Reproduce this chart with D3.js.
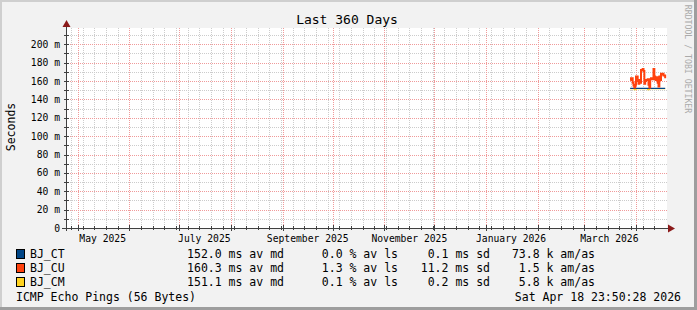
<!doctype html>
<html>
<head>
<meta charset="utf-8">
<title>Last 360 Days</title>
<script src="https://cdn.jsdelivr.net/npm/d3@7"></script>
<style>
  body { margin: 0; background: #f2f2f2; }
  svg { display: block; }
  text { font-family: "DejaVu Sans Mono", monospace; }
</style>
</head>
<body>
<script>
// ---- data (seconds) ----
var endTime = new Date(2026, 3, 18, 23, 50, 28);
var spanDays = 360;
var seriesStart = new Date(2026, 2, 28, 12, 0, 0);   // first sample of the targets
var stepHours = 12;

var hostNames = ["BJ_CT", "BJ_CU", "BJ_CM"];
var hostColors = ["#004586", "#ff420e", "#ffd320"];

var ctValues = [0.1520,0.1520,0.1520,0.1520,0.1520,0.1520,0.1520,0.1520,0.1520,0.1520,
                0.1520,0.1520,0.1520,0.1520,0.1520,0.1520,0.1520,0.1520,0.1520,0.1520,
                0.1520,0.1520,0.1520,0.1520,0.1520,0.1520,0.1520,0.1520,0.1520,0.1520,
                0.1520,0.1520,0.1520,0.1520,0.1520,0.1520,0.1520,0.1520,0.1520,0.1520,
                0.1520,0.1520,0.1520];
var cuValues = [0.161,0.163,0.163,0.158,0.155,0.153,0.156,0.165,0.165,0.160,
                0.157,0.161,0.158,0.172,0.172,0.173,0.171,0.157,0.160,0.161,
                0.161,0.162,0.156,0.153,0.162,0.163,0.162,0.162,0.173,0.165,
                0.162,0.161,0.164,0.158,0.154,0.165,0.161,0.168,0.167,0.168,
                0.166,0.166,0.163];
var cmValues = [0.1518,0.1518,0.1518,0.1518,0.1518,0.1505,0.1505,0.1518,0.1518,0.1518,
                0.1518,0.1518,0.1518,0.1518,0.1518,0.1518,0.1518,0.1518,0.1518,0.1518,
                0.1518,0.1505,0.1505,0.1518,0.1518,0.1518,0.1518,0.1518,0.1518,0.1518,
                0.1518,0.1518,0.1518,0.1518,0.1518,0.1518,0.1518,0.1518,0.1518,0.1518,
                0.1518,0.1518,0.1518];

var legendMedian = ["152.0 ms av md", "160.3 ms av md", "151.1 ms av md"];
var legendLoss = ["0.0 % av ls", "1.3 % av ls", "0.1 % av ls"];
var legendSd = ["0.1 ms sd", "11.2 ms sd", "0.2 ms sd"];
var legendAmas = ["73.8 k am/as", "1.5 k am/as", "5.8 k am/as"];

var yTicks = [0, 0.02, 0.04, 0.06, 0.08, 0.10, 0.12, 0.14, 0.16, 0.18, 0.20];
var yMinor = [0.01, 0.03, 0.05, 0.07, 0.09, 0.11, 0.13, 0.15, 0.17, 0.19, 0.21];
var labelMonths = [new Date(2025,4,1), new Date(2025,6,1), new Date(2025,8,1),
                   new Date(2025,10,1), new Date(2026,0,1), new Date(2026,2,1)];

// ---- layout ----
var w = 697, h = 310;
var pLeft = 66, pRight = 666, pTop = 28, pBottom = 228;

var svg = d3.select("body").append("svg").attr("width", w).attr("height", h);

// frame
svg.append("rect").attr("width", w).attr("height", h).attr("fill", "#f2f2f2");
svg.append("rect").attr("x", 0).attr("y", 0).attr("width", w).attr("height", 2).attr("fill", "#cfcfcf");
svg.append("rect").attr("x", 0).attr("y", 0).attr("width", 2).attr("height", h).attr("fill", "#cfcfcf");
svg.append("rect").attr("x", w - 3).attr("y", 0).attr("width", 3).attr("height", h).attr("fill", "#9e9e9e");
svg.append("rect").attr("x", 0).attr("y", h - 3).attr("width", w).attr("height", 3).attr("fill", "#9e9e9e");

// canvas
svg.append("rect").attr("x", pLeft).attr("y", pTop).attr("width", pRight - pLeft + 1).attr("height", pBottom - pTop)
   .attr("fill", "#ffffff");

var startTime = new Date(endTime.getTime() - spanDays * 864e5);
var x = d3.scaleTime().domain([startTime, endTime]).range([pLeft, pRight]);
var y = d3.scaleLinear().domain([0, 0.2177]).range([pBottom, pTop]);

// vertical grid: weeks (minor), months (major)
var weeks = d3.timeSunday.range(startTime, endTime);
var months = d3.timeMonth.range(startTime, endTime);
var grid = svg.append("g").attr("shape-rendering", "crispEdges");

function px(d) { return Math.round(x(d)) + 0.5; }
function py(d) { return Math.round(y(d)) + 0.5; }

grid.selectAll(".vmin").data(weeks).enter().append("line")
    .attr("x1", px).attr("x2", px)
    .attr("y1", pTop).attr("y2", pBottom)
    .attr("stroke", "#cccccc").attr("stroke-dasharray", "1,1");
grid.selectAll(".hmin").data(yMinor.concat(yTicks.slice(1))).enter().append("line")
    .attr("x1", pLeft).attr("x2", pRight + 1)
    .attr("y1", py).attr("y2", py)
    .attr("stroke", "#cccccc").attr("stroke-dasharray", "1,1");
grid.selectAll(".vmaj").data(months).enter().append("line")
    .attr("x1", px).attr("x2", px)
    .attr("y1", pTop).attr("y2", pBottom)
    .attr("stroke", "#f09a9a").attr("stroke-dasharray", "1,1");
grid.selectAll(".hmaj").data(yTicks.slice(1)).enter().append("line")
    .attr("x1", pLeft).attr("x2", pRight + 1)
    .attr("y1", py).attr("y2", py)
    .attr("stroke", "#f09a9a").attr("stroke-dasharray", "1,1");

// series
function toPoints(vals) {
  return vals.map(function(v, i){
    return { t: new Date(seriesStart.getTime() + i * stepHours * 3600e3), v: v };
  });
}
var line = d3.line().curve(d3.curveStepAfter)
    .x(function(d){ return x(d.t); })
    .y(function(d){ return y(d.v); });

var drawOrder = [[cmValues, 2], [ctValues, 0], [cuValues, 1]];
drawOrder.forEach(function(s){
  svg.append("path").datum(toPoints(s[0]))
     .attr("d", line)
     .attr("fill", "none")
     .attr("stroke", hostColors[s[1]])
     .attr("stroke-width", s[1] === 1 ? 2 : 1.2);
});

// axes
var axis = svg.append("g").attr("shape-rendering", "crispEdges");
axis.append("line").attr("x1", pLeft + 0.5).attr("x2", pLeft + 0.5).attr("y1", pBottom + 3).attr("y2", pTop - 4)
    .attr("stroke", "#404040");
axis.append("line").attr("x1", pLeft - 4).attr("x2", pRight + 4).attr("y1", pBottom + 0.5).attr("y2", pBottom + 0.5)
    .attr("stroke", "#404040");
axis.selectAll(".yt").data(yTicks.concat(yMinor)).enter().append("line")
    .attr("x1", pLeft - 2).attr("x2", pLeft + 3)
    .attr("y1", py).attr("y2", py)
    .attr("stroke", "#404040");
axis.selectAll(".xt").data(weeks).enter().append("line")
    .attr("x1", px).attr("x2", px)
    .attr("y1", pBottom - 2).attr("y2", pBottom + 2)
    .attr("stroke", "#404040");
axis.selectAll(".xT").data(months).enter().append("line")
    .attr("x1", px).attr("x2", px)
    .attr("y1", pBottom - 3).attr("y2", pBottom + 3)
    .attr("stroke", "#404040");
// arrows
svg.append("path").attr("d", "M" + (pLeft - 3.5) + "," + (pTop - 1) + "L" + (pLeft + 4.5) + "," + (pTop - 1) + "L" + (pLeft + 0.5) + "," + (pTop - 8) + "Z")
   .attr("fill", "#8b1a1a");
svg.append("path").attr("d", "M" + (pRight + 2) + "," + (pBottom - 3.5) + "L" + (pRight + 2) + "," + (pBottom + 4.5) + "L" + (pRight + 9) + "," + (pBottom + 0.5) + "Z")
   .attr("fill", "#8b1a1a");

// y labels
svg.selectAll(".ylab").data(yTicks).enter().append("text")
   .attr("x", 60).attr("y", function(d){ return y(d) + 3.5; })
   .attr("text-anchor", "end").attr("font-size", "9.7px").attr("fill", "#000")
   .text(function(d){ return d === 0 ? "0" : Math.round(d * 1000) + " m"; });

// x labels, centred half a month after the month start
svg.selectAll(".xlab").data(labelMonths).enter().append("text")
   .attr("x", function(d){ return x(d3.timeDay.offset(d, 15)); })
   .attr("y", 241.5)
   .attr("text-anchor", "middle").attr("font-size", "9.7px").attr("fill", "#000")
   .text(function(d){ return d3.timeFormat("%B %Y")(d); });

// titles
svg.append("text").attr("x", 347).attr("y", 23.5).attr("text-anchor", "middle")
   .attr("font-size", "13px").text("Last 360 Days");
svg.append("text").attr("transform", "translate(15,127) rotate(-90)").attr("text-anchor", "middle")
   .attr("font-size", "11.5px").text("Seconds");
svg.append("text").attr("transform", "translate(685,59) rotate(90)").attr("text-anchor", "middle")
   .attr("font-size", "8.2px").attr("fill", "#aaaaaa").text("RRDTOOL / TOBI OETIKER");

// legend
var rowY = [258, 272, 286];
hostNames.forEach(function(name, i){
  svg.append("rect").attr("x", 16.5).attr("y", rowY[i] - 8.5).attr("width", 8).attr("height", 9)
     .attr("fill", hostColors[i]).attr("stroke", "#000").attr("stroke-width", 1);
  svg.append("text").attr("x", 30).attr("y", rowY[i]).attr("font-size", "11.5px").text(name);
  svg.append("text").attr("x", 284).attr("y", rowY[i]).attr("text-anchor", "end").attr("font-size", "11.5px").text(legendMedian[i]);
  svg.append("text").attr("x", 398).attr("y", rowY[i]).attr("text-anchor", "end").attr("font-size", "11.5px").text(legendLoss[i]);
  svg.append("text").attr("x", 490).attr("y", rowY[i]).attr("text-anchor", "end").attr("font-size", "11.5px").text(legendSd[i]);
  svg.append("text").attr("x", 595).attr("y", rowY[i]).attr("text-anchor", "end").attr("font-size", "11.5px").text(legendAmas[i]);
});
svg.append("text").attr("x", 16).attr("y", 301).attr("font-size", "11.5px").text("ICMP Echo Pings (56 Bytes)");
svg.append("text").attr("x", 681).attr("y", 301).attr("text-anchor", "end").attr("font-size", "11.5px")
   .text("Sat Apr 18 23:50:28 2026");
</script>
</body>
</html>
